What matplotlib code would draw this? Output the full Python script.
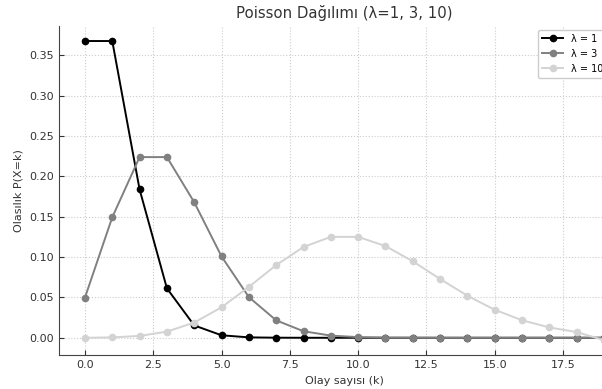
# poisson distributions, three lambdas
import matplotlib
matplotlib.use("Agg")
import matplotlib.pyplot as plt

k_values = list(range(20))

lambda_labels = ["λ = 1", "λ = 3", "λ = 10"]
line_colors = ["black", "gray", "lightgray"]

p_lambda1 = [0.3679, 0.3679, 0.1839, 0.0613, 0.0153, 0.0031, 0.0005, 0.0001,
             0.0, 0.0, 0.0, 0.0, 0.0, 0.0, 0.0, 0.0, 0.0, 0.0, 0.0, 0.0]
p_lambda3 = [0.0498, 0.1494, 0.2240, 0.2240, 0.1680, 0.1008, 0.0504, 0.0216,
             0.0081, 0.0027, 0.0008, 0.0002, 0.0001, 0.0, 0.0, 0.0, 0.0, 0.0,
             0.0, 0.0]
p_lambda10 = [0.0000, 0.0005, 0.0023, 0.0076, 0.0189, 0.0378, 0.0631, 0.0901,
              0.1126, 0.1251, 0.1251, 0.1137, 0.0948, 0.0729, 0.0521, 0.0347,
              0.0217, 0.0128, 0.0071, -0.0030]

series = [p_lambda1, p_lambda3, p_lambda10]

fig = plt.figure(figsize=(6.02, 3.89), dpi=100)
ax = fig.add_axes([0.098, 0.087, 0.9485, 0.846])

for values, label, color in zip(series, lambda_labels, line_colors):
    ax.plot(k_values, values, marker="o", markersize=4.5, linewidth=1.4,
            color=color, label=label)

ax.set_title("Poisson Dağılımı (λ=1, 3, 10)", fontsize=10.7, color="#333333")
ax.set_xlabel("Olay sayısı (k)", fontsize=8, color="#333333")
ax.set_ylabel("Olasılık P(X=k)", fontsize=8, color="#333333")

ax.grid(True, linestyle=":", color="#cccccc", linewidth=0.8)
ax.tick_params(direction="in", labelsize=8, colors="#333333")
for side in ["top", "right"]:
    ax.spines[side].set_visible(False)
for side in ["left", "bottom"]:
    ax.spines[side].set_color("#444444")

# legend sits near the right edge, like the original screenshot
ax.legend(loc="upper left", bbox_to_anchor=(538 / 602, 1 - 30 / 389),
          bbox_transform=fig.transFigure, borderaxespad=0, fontsize=7,
          handlelength=2.2, framealpha=1.0)

fig.savefig("out.png", dpi=100)
